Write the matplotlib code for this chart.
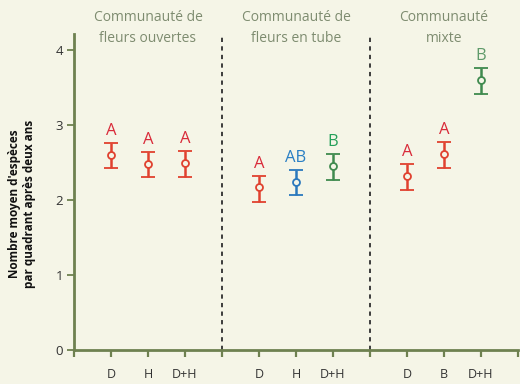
import matplotlib.pyplot as plt

# data
groups = ["Communauté de\nfleurs ouvertes", "Communauté de\nfleurs en tube", "Communauté\nmixte"]
tick_labels = ["D", "H", "D+H", "D", "H", "D+H", "D", "B", "D+H"]
positions = [1, 2, 3, 5, 6, 7, 9, 10, 11]
means = [2.60, 2.48, 2.49, 2.17, 2.24, 2.45, 2.32, 2.61, 3.60]
upper = [2.76, 2.64, 2.65, 2.32, 2.40, 2.61, 2.48, 2.77, 3.76]
lower = [2.42, 2.30, 2.31, 1.97, 2.07, 2.27, 2.13, 2.43, 3.41]
letters = ["A", "A", "A", "A", "AB", "B", "A", "A", "B"]

red, blue, green = "#e0412f", "#2a78bd", "#3f8a4e"
mark_colors = [red, red, red, red, blue, green, red, red, green]
letter_colors = ["#d92b3a", "#d92b3a", "#d92b3a", "#d92b3a", "#2a7fc4", "#25a05a",
                 "#d92b3a", "#d92b3a", "#5f9a6a"]

bg = "#f5f5e7"
axis_col = "#6e8150"
title_col = "#7e8c70"

plt.rcParams['font.family'] = ['Open Sans', 'DejaVu Sans']

fig = plt.figure(figsize=(5.2, 3.84), dpi=100, facecolor=bg)
ax = fig.add_axes([0.1423, 0.0885, 0.8538, 0.8225], facecolor=bg)

for x, m, lo, hi, c in zip(positions, means, lower, upper, mark_colors):
    ax.errorbar(x, m, yerr=[[m - lo], [hi - m]], fmt='o', color=c, ecolor=c,
                elinewidth=1.8, capsize=4.8, capthick=1.8, markersize=5,
                markerfacecolor=bg, markeredgecolor=c, markeredgewidth=1.3, zorder=3)

for x, hi, t, c in zip(positions, upper, letters, letter_colors):
    ax.text(x, hi + 0.05, t, ha='center', va='bottom', color=c, fontsize=12)

for xd in [4, 8]:
    ax.axvline(xd, ymin=0, ymax=0.995, color="#3c3c3c", linestyle=(0, (2.2, 2.2)), linewidth=1.4)

for i, g in enumerate(groups):
    ax.text(2 + 4 * i, 4.29, g, ha='center', va='center', color=title_col, fontsize=10,
            linespacing=1.5, clip_on=False)

ax.set_xlim(0, 12)
ax.set_ylim(0, 4.21)
ax.set_xticks(range(0, 13))
ax.set_xticklabels([""] + tick_labels[:3] + [""] + tick_labels[3:6] + [""] + tick_labels[6:] + [""])
ax.set_yticks([0, 1, 2, 3, 4])
ax.tick_params(axis='x', direction='out', length=5, width=1.6, color=axis_col,
               labelsize=9, labelcolor="#333333", pad=8)
ax.tick_params(axis='y', direction='out', length=5, width=1.3, color=axis_col,
               labelsize=9.5, labelcolor="#333333", pad=3)

for s in ['top', 'right']:
    ax.spines[s].set_visible(False)
for s in ['left', 'bottom']:
    ax.spines[s].set_color(axis_col)
    ax.spines[s].set_linewidth(2)

fig.text(22 / 520, 1 - 204 / 384, "Nombre moyen d'espèces\npar quadrant après deux ans",
         rotation=90, ha='center', va='center', fontsize=8.5, fontweight='bold',
         color="#111111", linespacing=1.25)

fig.savefig("out.png", dpi=100, facecolor=bg)
